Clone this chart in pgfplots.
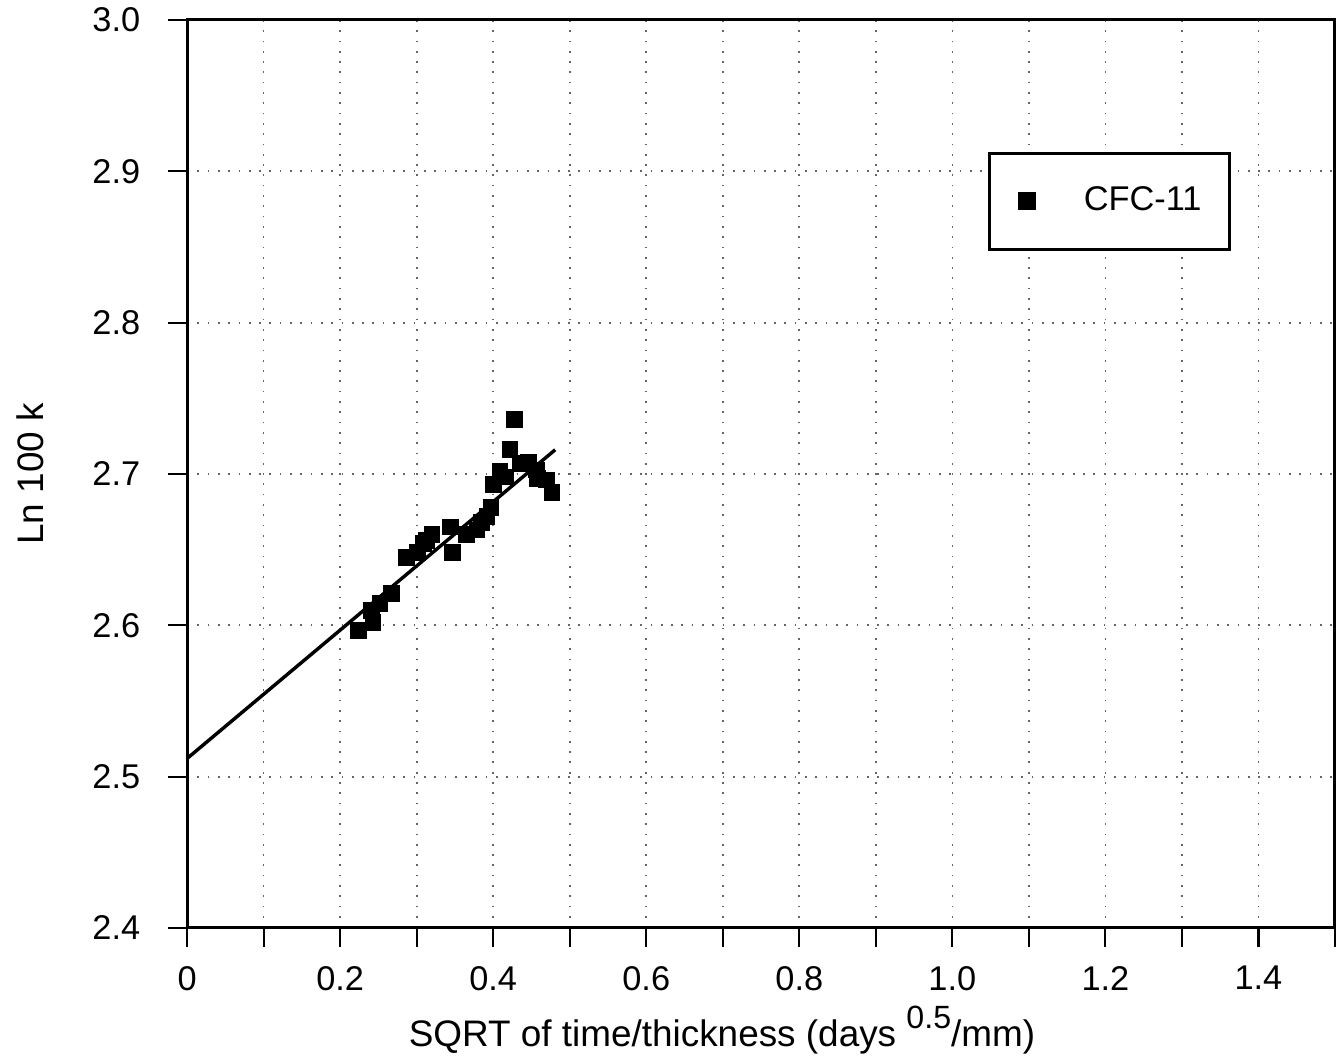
\documentclass[border=0pt]{standalone}
\usepackage{fontspec}
\setmainfont{Liberation Sans}
\usepackage{pgfplots}
\pgfplotsset{compat=1.18}
\begin{document}
\begin{tikzpicture}
\begin{axis}[
  scale only axis,
  width=267.5pt, height=211.6pt,
  xmin=0, xmax=1.5, ymin=2.4, ymax=3.0,
  xtick={0,0.1,...,1.5},
  xticklabels={0,,0.2,,0.4,,0.6,,0.8,,1.0,,1.2,,1.4,},
  ytick={2.4,2.5,...,3.0},
  yticklabels={2.4,2.5,2.6,2.7,2.8,2.9,3.0},
  tick align=outside,
  tick pos=left,
  major tick length=4.4pt,
  tick style={black, line width=0.5pt},
  axis line style={line width=0.7pt},
  grid=major,
  grid style={dotted, gray!80!black, line width=0.4pt},
  /pgf/number format/assume math mode=true,
  ticklabel style={font=\fontsize{8}{9}\selectfont},
  yticklabel style={xshift=-3pt, inner ysep=1pt},
  xticklabel style={yshift=-1pt},
  label style={font=\fontsize{8.6}{10}\selectfont},
  xlabel={SQRT of time/thickness (days \raisebox{0.9ex}{\fontsize{7.5}{9}\selectfont 0.5}/mm)},
  ylabel={Ln 100 k},
  xlabel style={at={(axis description cs:0.466,-0.1125)}, anchor=center},
  ylabel style={at={(axis description cs:-0.137,0.5)}, anchor=center},
  legend style={at={(0.698,0.855)}, anchor=north west, draw=black,
    line width=0.7pt, inner xsep=4.5pt, inner ysep=5.7pt,
    font=\fontsize{8}{10}\selectfont,
    legend cell align=left, nodes={inner sep=2pt}},
  legend image code/.code={\path (0,0); \draw[mark repeat=1,mark phase=1] plot coordinates {(3.9pt,0pt)};},
]
\addplot[only marks, mark=square*, mark size=1.75pt, color=black] coordinates {
  (0.224,2.5965)
  (0.243,2.602)
  (0.241,2.610)
  (0.252,2.6146)
  (0.267,2.621)
  (0.287,2.645)
  (0.301,2.648)
  (0.309,2.654)
  (0.313,2.656)
  (0.320,2.660)
  (0.344,2.665)
  (0.347,2.648)
  (0.365,2.660)
  (0.379,2.663)
  (0.385,2.668)
  (0.392,2.672)
  (0.397,2.678)
  (0.400,2.693)
  (0.409,2.7015)
  (0.416,2.698)
  (0.422,2.716)
  (0.428,2.736)
  (0.435,2.707)
  (0.446,2.708)
  (0.457,2.7026)
  (0.458,2.697)
  (0.470,2.696)
  (0.477,2.688)
};
\addlegendentry{\hspace{9.4pt}CFC-11}
\addplot[black, line width=0.8pt, forget plot] coordinates {
  (0,2.512) (0.481,2.716)
};
\end{axis}
\pgfresetboundingbox
\path[use as bounding box] ([shift={(-43.6pt,-31.2pt)}]current axis.south west)
  rectangle ([shift={(2.1pt,4.66pt)}]current axis.north east);
\end{tikzpicture}
\end{document}
